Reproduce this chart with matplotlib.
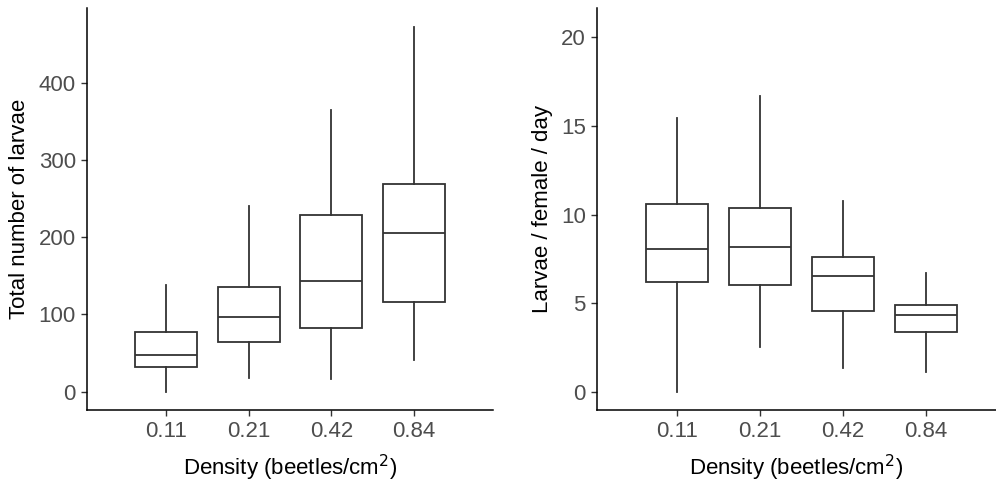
import matplotlib
matplotlib.use("Agg")
import matplotlib.pyplot as plt

plt.rcParams['font.family'] = ['Liberation Sans', 'DejaVu Sans']

categories = ["0.11", "0.21", "0.42", "0.84"]

# left panel: total number of larvae (whislo, q1, med, q3, whishi)
total_whislo = [0, 17.6, 16, 41.3]
total_q1 = [31.4, 64.5, 82.1, 116.5]
total_med = [46.9, 97.2, 143.6, 206]
total_q3 = [77.8, 135.9, 229.3, 268.4]
total_whishi = [138, 240.4, 365, 472]

# right panel: larvae / female / day
rate_whislo = [0, 2.54, 1.36, 1.13]
rate_q1 = [6.2, 6.03, 4.58, 3.39]
rate_med = [8.08, 8.16, 6.54, 4.33]
rate_q3 = [10.62, 10.36, 7.63, 4.92]
rate_whishi = [15.45, 16.72, 10.77, 6.69]

W, H = 996, 483
fig = plt.figure(figsize=(W / 100, H / 100), dpi=100)

def make_axes(l, r, t, b):
    return fig.add_axes([l / W, (H - b) / H, (r - l) / W, (b - t) / H])

ax1 = make_axes(87, 493, 8, 410)
ax2 = make_axes(597, 996, 8, 410)

line_col = "#333333"

def draw(ax, lo, q1, med, q3, hi, ylim, yticks, ylabel, xlim):
    stats = []
    for i in range(len(categories)):
        stats.append(dict(whislo=lo[i], q1=q1[i], med=med[i], q3=q3[i],
                          whishi=hi[i], fliers=[], label=categories[i]))
    ax.bxp(stats, positions=range(1, len(categories) + 1), widths=0.75,
           showfliers=False, showcaps=False, patch_artist=True,
           boxprops=dict(facecolor="white", edgecolor=line_col, linewidth=1.3),
           medianprops=dict(color=line_col, linewidth=1.3),
           whiskerprops=dict(color=line_col, linewidth=1.3))
    ax.set_xlim(*xlim)
    ax.set_ylim(*ylim)
    ax.set_yticks(yticks)
    ax.set_yticklabels([str(v) for v in yticks])
    ax.set_xticks(range(1, len(categories) + 1))
    ax.set_xticklabels(categories)
    for s in ["top", "right"]:
        ax.spines[s].set_visible(False)
    for s in ["left", "bottom"]:
        ax.spines[s].set_linewidth(1.1)
        ax.spines[s].set_color("black")
    ax.tick_params(axis="both", length=4, width=1.0, color="#333333",
                   labelsize=16, labelcolor="#4D4D4D", pad=4)
    ax.set_ylabel(ylabel, fontsize=16, color="black", labelpad=6)
    ax.set_xlabel("Density (beetles/cm$^2$)", fontsize=16, color="black", labelpad=8)

draw(ax1, total_whislo, total_q1, total_med, total_q3, total_whishi,
     (-23.7, 497), [0, 100, 200, 300, 400], "Total number of larvae", (0.045, 4.955))
draw(ax2, rate_whislo, rate_q1, rate_med, rate_q3, rate_whishi,
     (-1.03, 21.66), [0, 5, 10, 15, 20], "Larvae / female / day", (0.03, 4.845))

fig.savefig("out.png", dpi=100)
